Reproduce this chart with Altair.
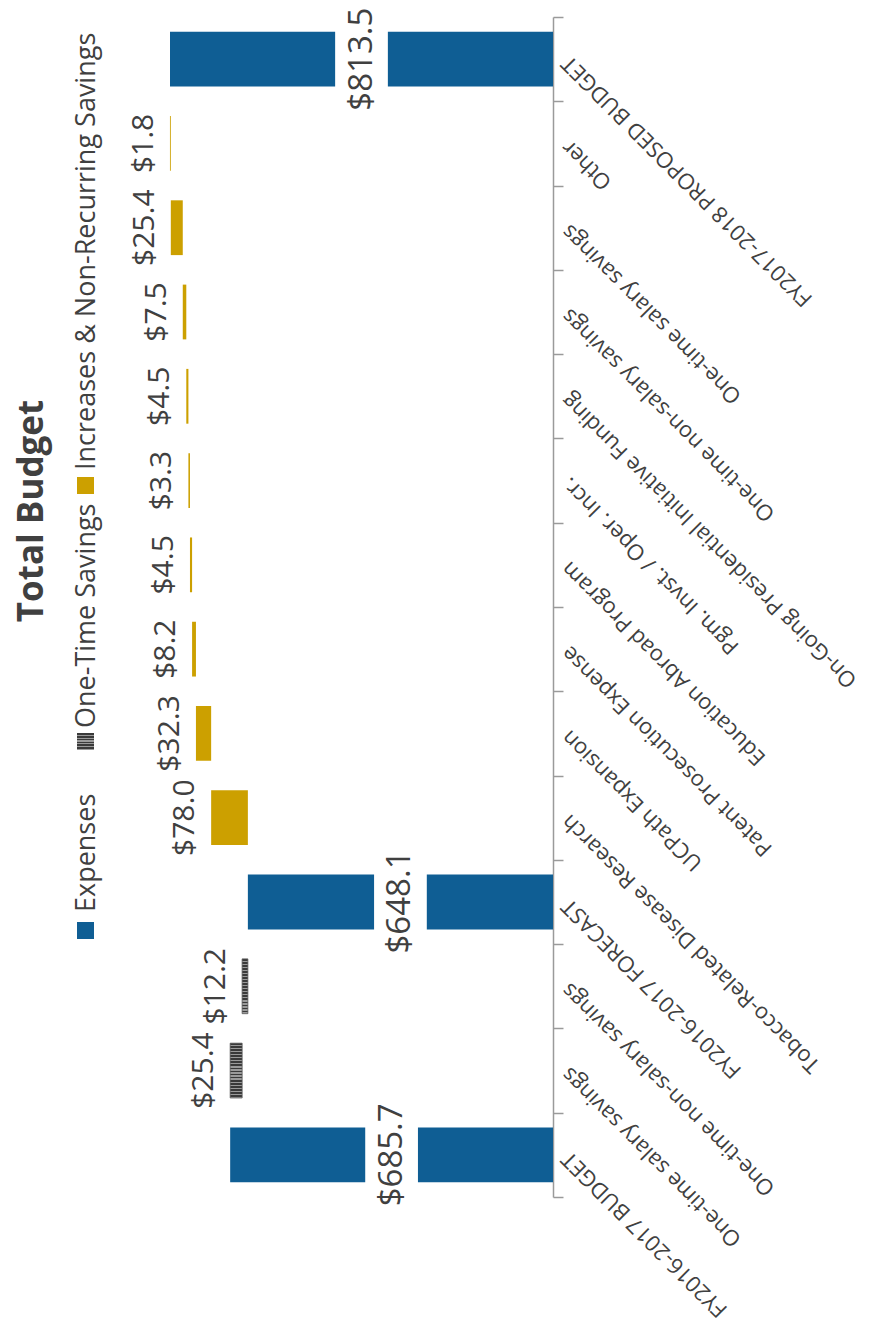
import altair as alt
import pandas as pd

# ---- data ----
categories = [
    "FY2016-2017 BUDGET",
    "One-time salary savings",
    "One-time non-salary savings",
    "FY2016-2017 FORECAST",
    "Tobacco-Related Disease Research",
    "UCPath Expansion",
    "Patent Prosecution Expense",
    "Education Abroad Program",
    "Pgm. Invst. / Oper. Incr.",
    "On-Going Presidential Initiative Funding",
    "One-time non-salary savings",
    "One-time salary savings",
    "Other",
    "FY2017-2018 PROPOSED BUDGET",
]
amounts = [685.7, 25.4, 12.2, 648.1, 78.0, 32.3, 8.2, 4.5, 3.3, 4.5, 7.5, 25.4, 1.8, 813.5]
kinds = ["total", "saving", "saving", "total",
         "increase", "increase", "increase", "increase", "increase",
         "increase", "increase", "increase", "increase", "total"]
series_names = ["Expenses", "One-Time Savings", "Increases & Non-Recurring Savings"]
kind_to_series = {"total": series_names[0], "saving": series_names[1], "increase": series_names[2]}

# ---- waterfall table ----
lo, hi = [], []
running = 0.0
for a, k in zip(amounts, kinds):
    if k == "total":
        l, h = 0.0, a
        running = a
    elif k == "saving":
        l, h = running - a, running
        running -= a
    else:
        l, h = running, running + a
        running += a
    lo.append(round(l, 2))
    hi.append(round(h, 2))

keys = [f"{i:02d}|{c}" for i, c in enumerate(categories)]
df = pd.DataFrame({
    "key": keys,
    "amount": amounts,
    "kind": kinds,
    "series": [kind_to_series[k] for k in kinds],
    "lo": lo,
    "hi": hi,
})

# ---- styling ----
BLUE = "#0F5E94"
GOLD = "#CCA000"
DARK = "#3a3a3a"
TEXT = "#404040"
FONT = "Open Sans"

PX_PER_UNIT = 0.4708
W = 495
H = 1180
DMAX = W / PX_PER_UNIT
BAR_BAND = 0.65


def stripes(n, dark=DARK, light="#9a9a9a"):
    stops = []
    for i in range(n):
        a = i / n
        b = (i + 0.6) / n
        c = (i + 1) / n
        stops += [
            {"offset": a, "color": dark},
            {"offset": b, "color": dark},
            {"offset": b, "color": light},
            {"offset": c, "color": light},
        ]
    return {"gradient": "linear", "x1": 0, "x2": 0, "y1": 0, "y2": 1, "stops": stops}


y_axis = alt.Axis(
    orient="right",
    title=None,
    labelExpr="split(datum.value, '|')[1]",
    labelAngle=225,
    labelAlign="right",
    labelBaseline="middle",
    labelFontSize=22,
    labelFont=FONT,
    labelColor=TEXT,
    labelPadding=2,
    labelLimit=700,
    labelOverlap=False,
    tickBand="extent",
    tickSize=10,
    tickColor="#9a9a9a",
    domainColor="#9a9a9a",
    domainWidth=1.5,
    tickWidth=1.5,
    grid=False,
)
y_enc = alt.Y(
    "key:N",
    sort=keys[::-1],
    scale=alt.Scale(paddingInner=0, paddingOuter=0),
    axis=y_axis,
)
x_scale = alt.Scale(domain=[0, DMAX], reverse=True, nice=False, zero=True)

base = alt.Chart(df)

bars_main = base.transform_filter("datum.kind != 'saving'").mark_bar(
    height={"band": BAR_BAND}
).encode(
    y=y_enc,
    x=alt.X("lo:Q", scale=x_scale, axis=None),
    x2="hi:Q",
    color=alt.Color(
        "series:N",
        scale=alt.Scale(domain=series_names, range=[BLUE, DARK, GOLD]),
        legend=None,
    ),
)

bars_saving = base.transform_filter("datum.kind == 'saving'").mark_bar(
    height={"band": BAR_BAND}, fill=stripes(18), stroke="#555555", strokeWidth=0.8
).encode(
    y=y_enc,
    x=alt.X("lo:Q", scale=x_scale, axis=None),
    x2="hi:Q",
)

totals = base.transform_filter("datum.kind == 'total'").transform_calculate(
    mid="datum.amount / 2",
    gap_lo="datum.amount / 2 - 56",
    gap_hi="datum.amount / 2 + 56",
    label="'$' + format(datum.amount, '.1f')",
)

gaps = totals.mark_bar(color="white", height={"band": 0.7}).encode(
    y=y_enc,
    x=alt.X("gap_lo:Q", scale=x_scale, axis=None),
    x2="gap_hi:Q",
)

total_labels = totals.mark_text(
    angle=270, align="center", baseline="middle", fontSize=33, font=FONT, color=TEXT
).encode(
    y=y_enc,
    x=alt.X("mid:Q", scale=x_scale, axis=None),
    text="label:N",
)

step_labels = base.transform_filter("datum.kind != 'total'").transform_calculate(
    label="'$' + format(datum.amount, '.1f')"
).mark_text(
    angle=270, align="center", baseline="bottom", fontSize=30, font=FONT, color=TEXT,
    xOffset=-11,
).encode(
    y=y_enc,
    x=alt.X("hi:Q", scale=x_scale, axis=None),
    text="label:N",
)

# ---- manual legend (rotated like the rest of the chart) ----
legend_layers = []
legend_pos = [(905, 895), (716, 711), (460, 453)]  # (square top, text start) in plot px
legend_fill = [BLUE, stripes(6), GOLD]
for name, (sq_top, txt_y), fill in zip(series_names, legend_pos, legend_fill):
    ldf = pd.DataFrame({"name": [name]})
    sq = alt.Chart(ldf).mark_rect(fill=fill).encode(
        x=alt.value(19), x2=alt.value(36), y=alt.value(sq_top), y2=alt.value(sq_top + 17)
    )
    tx = alt.Chart(ldf).mark_text(
        angle=270, align="left", baseline="alphabetic", fontSize=27, font=FONT, color=TEXT
    ).encode(x=alt.value(37), y=alt.value(txt_y), text="name:N")
    legend_layers += [sq, tx]

chart = alt.layer(
    bars_main, bars_saving, gaps, total_labels, step_labels, *legend_layers
).properties(
    width=W,
    height=H,
    autosize=alt.AutoSizeParams(type="none"),
    padding={"left": 50, "top": 9, "right": 319, "bottom": 124},
    title=alt.TitleParams(
        "Total Budget",
        orient="left",
        anchor="middle",
        fontSize=35,
        fontWeight="bold",
        font=FONT,
        color=TEXT,
        offset=8,
        dx=96,
    ),
).configure(font=FONT, view=alt.ViewConfig(stroke=None))

chart.save("out.html", embed_options={"renderer": "svg", "actions": False})
